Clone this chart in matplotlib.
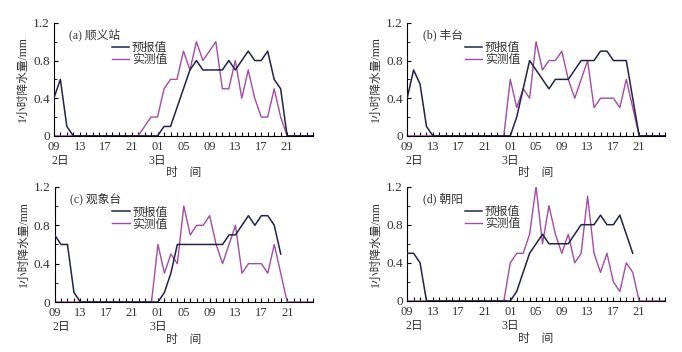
import numpy as np
import matplotlib.pyplot as plt

plt.rcParams['font.family'] = ['Liberation Serif', 'Noto Sans CJK SC']
plt.rcParams['font.size'] = 9

# hours since 09:00 on day 2 (0..40)
hours = np.arange(41)
nan = np.nan

# (a) 顺义站
fc_a = [0.4, 0.6, 0.1, 0, 0, 0, 0, 0, 0, 0, 0, 0, 0, 0, 0, 0, 0, 0.1, 0.1, 0.3, 0.5, 0.7,
        0.8, 0.7, 0.7, 0.7, 0.7, 0.8, 0.7, 0.8, 0.9, 0.8, 0.8, 0.9, 0.6, 0.5, 0, 0, 0, 0, 0]
ob_a = [0, 0, 0, 0, 0, 0, 0, 0, 0, 0, 0, 0, 0, 0, 0.1, 0.2, 0.2, 0.5, 0.6, 0.6, 0.9, 0.7,
        1.0, 0.8, 0.9, 1.0, 0.5, 0.5, 0.8, 0.4, 0.7, 0.4, 0.2, 0.2, 0.5, 0.2, 0, 0, 0, 0, 0]
# (b) 丰台
fc_b = [0.4, 0.7, 0.55, 0.1, 0, 0, 0, 0, 0, 0, 0, 0, 0, 0, 0, 0, 0, 0.2, 0.5, 0.8, 0.7, 0.6,
        0.5, 0.6, 0.6, 0.6, 0.7, 0.8, 0.8, 0.8, 0.9, 0.9, 0.8, 0.8, 0.8, 0.4, 0, 0, 0, 0, 0]
ob_b = [0, 0, 0, 0, 0, 0, 0, 0, 0, 0, 0, 0, 0, 0, 0, 0, 0.6, 0.3, 0.5, 0.4, 1.0, 0.7,
        0.8, 0.8, 0.9, 0.6, 0.4, 0.6, 0.8, 0.3, 0.4, 0.4, 0.4, 0.3, 0.6, 0.3, 0, 0, 0, 0, 0]
# (c) 观象台
fc_c = [0.7, 0.6, 0.6, 0.1, 0, 0, 0, 0, 0, 0, 0, 0, 0, 0, 0, 0, 0, 0.1, 0.3, 0.6, 0.6, 0.6,
        0.6, 0.6, 0.6, 0.6, 0.6, 0.7, 0.7, 0.8, 0.9, 0.8, 0.9, 0.9, 0.8, 0.5, nan, nan, nan, nan, nan]
ob_c = [0, 0, 0, 0, 0, 0, 0, 0, 0, 0, 0, 0, 0, 0, 0, 0, 0.6, 0.3, 0.5, 0.4, 1.0, 0.7,
        0.8, 0.8, 0.9, 0.6, 0.4, 0.6, 0.8, 0.3, 0.4, 0.4, 0.4, 0.3, 0.6, 0.3, 0, 0, 0, 0, 0]
# (d) 朝阳
fc_d = [0.5, 0.5, 0.4, 0, 0, 0, 0, 0, 0, 0, 0, 0, 0, 0, 0, 0, 0, 0.1, 0.3, 0.5, 0.6, 0.7,
        0.6, 0.6, 0.6, 0.6, 0.7, 0.8, 0.8, 0.8, 0.9, 0.8, 0.8, 0.9, 0.7, 0.5, nan, nan, nan, nan, nan]
ob_d = [0, 0, 0, 0, 0, 0, 0, 0, 0, 0, 0, 0, 0, 0, 0, 0, 0.4, 0.5, 0.5, 0.7, 1.2, 0.6,
        1.0, 0.7, 0.5, 0.7, 0.4, 0.5, 1.1, 0.5, 0.3, 0.5, 0.2, 0.1, 0.4, 0.3, 0, 0, 0, 0, 0]

titles = ['(a) 顺义站', '(b) 丰台', '(c) 观象台', '(d) 朝阳']
forecasts = [fc_a, fc_b, fc_c, fc_d]
observed = [ob_a, ob_b, ob_c, ob_d]
tick_labels = ['09', '13', '17', '21', '01', '05', '09', '13', '17', '21']

c_fc = '#22224a'
c_ob = '#a24ca4'
c_txt = '#333333'

fig = plt.figure(figsize=(6.82, 3.52), dpi=100)
positions = [[0.079, 0.614, 0.380, 0.321], [0.597, 0.614, 0.378, 0.321],
             [0.080, 0.142, 0.379, 0.327], [0.597, 0.145, 0.378, 0.325]]

for i in range(4):
    ax = fig.add_axes(positions[i])
    ax.plot(hours, forecasts[i], color=c_fc, lw=1.1, label='预报值', zorder=3)
    ax.plot(hours, observed[i], color=c_ob, lw=1.0, label='实测值', zorder=2)
    ax.set_xlim(0, 40)
    ax.set_ylim(0, 1.2)
    ax.spines['top'].set_visible(False)
    ax.spines['right'].set_visible(False)
    ax.set_xticks(hours)
    ax.set_xticklabels([tick_labels[h // 4] if h % 4 == 0 and h <= 36 else '' for h in hours])
    ax.set_yticks([0, 0.4, 0.8, 1.2])
    ax.set_yticklabels(['0', '0.4', '0.8', '1.2'], fontsize=9.5)
    ax.set_yticks([0.2, 0.6, 1.0], minor=True)
    ax.tick_params(axis='x', direction='in', length=3, width=0.8, pad=3.5, labelcolor=c_txt)
    ax.tick_params(axis='y', which='major', direction='in', length=3, pad=3,
                   labelcolor=c_txt)
    ax.tick_params(axis='y', which='minor', direction='in', length=2)
    ax.text(-0.3, -0.22, '2日', transform=ax.get_xaxis_transform(), ha='left', va='center',
            fontsize=8.5, color=c_txt)
    ax.text(16, -0.22, '3日', transform=ax.get_xaxis_transform(), ha='center', va='center',
            fontsize=8.5, color=c_txt)
    ax.text(0.5, -0.33, '时　间', transform=ax.transAxes, ha='center', va='center',
            fontsize=8.5, color=c_txt)
    ax.set_ylabel('1小时降水量/mm', labelpad=3, fontsize=8.5, color=c_txt)
    ax.text(0.06, 0.89, titles[i], transform=ax.transAxes, ha='left', va='center',
            fontsize=8.5, color=c_txt)
    ax.legend(loc='upper left', bbox_to_anchor=(0.2, 0.88), frameon=False, fontsize=8.5,
              handlelength=1.5, handletextpad=0.2, labelspacing=0.0, borderpad=0,
              labelcolor=c_txt)

plt.savefig('out.png', dpi=100)
